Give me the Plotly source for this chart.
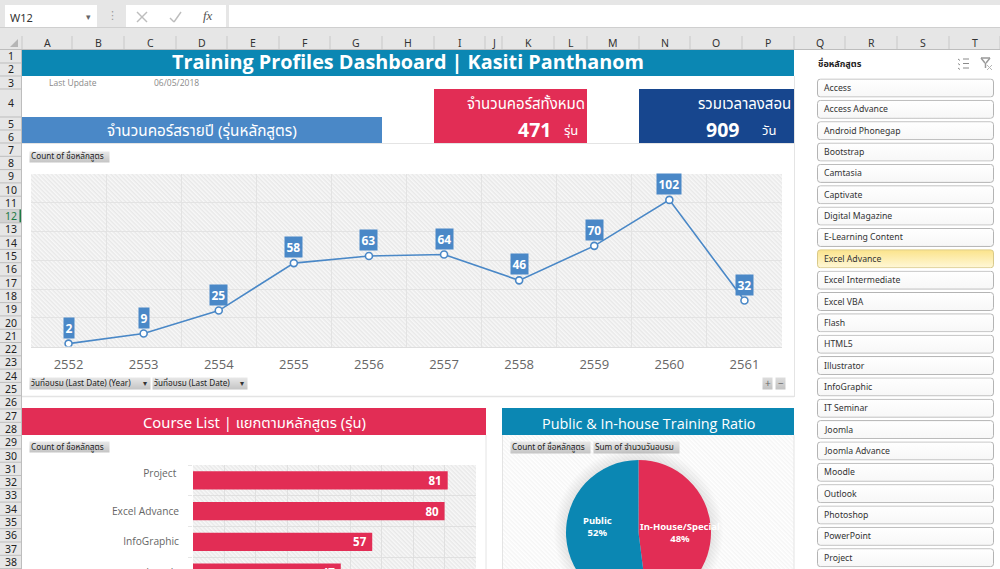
import base64
import plotly.graph_objects as go

# figure is taller than the window on purpose, the sheet runs past the bottom edge
W = 1000
H = 620

# data
years = ["2552", "2553", "2554", "2555", "2556", "2557", "2558", "2559", "2560", "2561"]
year_counts = [2, 9, 25, 58, 63, 64, 46, 70, 102, 32]

course_names = ["Project", "Excel Advance", "InfoGraphic", "Joomla"]
course_counts = [81, 80, 57, 47]

ratio_labels = ["In-House/Special", "Public"]
ratio_values = [48, 52]

slicer_items = ["Access", "Access Advance", "Android Phonegap", "Bootstrap", "Camtasia", "Captivate",
                "Digital Magazine", "E-Learning Content", "Excel Advance", "Excel Intermediate", "Excel VBA",
                "Flash", "HTML5", "Illustrator", "InfoGraphic", "IT Seminar", "Joomla", "Joomla Advance",
                "Moodle", "Outlook", "Photoshop", "PowerPoint", "Project"]

col_names = list("ABCDEFGHIJKLMNOPQRST")
col_edges = [22, 72, 124, 176, 227, 279, 330, 382, 434, 485, 502, 554, 587, 639, 690, 742, 794, 845, 897, 949, 1000]
row_edges = [50, 63, 76, 89, 117, 130, 143] + [143 + 13.3 * i for i in range(1, 33)]

# colours
TEAL = "#0b87b3"
RED = "#e22d55"
NAVY = "#17468e"
BLUE = "#4a88c7"
GREY_BAR = "#e6e6e6"

FONT = "Open Sans"
UI_FONT = "Noto Sans"
THAI = "Noto Sans Thai, Noto Sans, Open Sans"


def px(x):
    return x / W


def py(y):
    return 1 - y / H


shapes = []
notes = []
images = []


def rect(x0, y0, x1, y1, fill="rgba(0,0,0,0)", line=None, lw=1):
    shapes.append(dict(type="rect", xref="paper", yref="paper", x0=px(x0), x1=px(x1), y0=py(y0), y1=py(y1),
                       fillcolor=fill, line=dict(color=line or "rgba(0,0,0,0)", width=lw if line else 0),
                       layer="below"))


def seg(x0, y0, x1, y1, color="#c6c6c6", lw=1):
    shapes.append(dict(type="line", xref="paper", yref="paper", x0=px(x0), x1=px(x1), y0=py(y0), y1=py(y1),
                       line=dict(color=color, width=lw), layer="below"))


def text(x, y, s, size=11, color="#444444", font=FONT, bold=False, anchor="center"):
    if bold:
        s = "<b>" + s + "</b>"
    # annotations carry a little padding, take it back for edge-anchored text
    if anchor == "left":
        x -= 2
    elif anchor == "right":
        x += 2
    notes.append(dict(xref="paper", yref="paper", x=px(x), y=py(y), text=s, showarrow=False, xanchor=anchor,
                      yanchor="middle", font=dict(size=size, color=color, family=font)))


def svg_image(x0, y0, x1, y1, body):
    w, h = x1 - x0, y1 - y0
    svg = f'<svg xmlns="http://www.w3.org/2000/svg" width="{w}" height="{h}" viewBox="0 0 {w} {h}">{body}</svg>'
    src = "data:image/svg+xml;base64," + base64.b64encode(svg.encode()).decode()
    images.append(dict(source=src, xref="paper", yref="paper", x=px(x0), y=py(y0), sizex=w / W, sizey=h / H,
                       sizing="stretch", xanchor="left", yanchor="top", layer="below"))


def hatch(x0, y0, x1, y1, back, stroke):
    body = ('<defs><pattern id="p" width="3" height="3" patternUnits="userSpaceOnUse" '
            'patternTransform="rotate(45)"><rect width="3" height="3" fill="' + back + '"/>'
            '<rect width="3" height="1.5" fill="' + stroke + '"/></pattern></defs>'
            f'<rect width="{x1 - x0}" height="{y1 - y0}" fill="url(#p)"/>')
    svg_image(x0, y0, x1, y1, body)


def gradient(x0, y0, x1, y1, top, bottom, rx=0, border=None):
    body = (f'<defs><linearGradient id="g" x1="0" y1="0" x2="0" y2="1"><stop offset="0" stop-color="{top}"/>'
            f'<stop offset="1" stop-color="{bottom}"/></linearGradient></defs>'
            f'<rect x="0.5" y="0.5" width="{x1 - x0 - 1}" height="{y1 - y0 - 1}" rx="{rx}" fill="url(#g)" '
            f'stroke="{border or "none"}"/>')
    svg_image(x0, y0, x1, y1, body)


def field_button(x0, y0, x1, y1, label, arrow=False):
    gradient(x0, y0, x1, y1, "#e8e8e8", "#c4c4c4")
    text(x0 + 2, (y0 + y1) / 2, label, size=8.2, color="#222222", font=THAI, anchor="left")
    if arrow:
        text(x1 - 6, (y0 + y1) / 2, "▾", size=8, color="#333333", font="DejaVu Sans")


# ---- excel chrome ----
rect(0, 0, W, 50, GREY_BAR)
rect(0, 50, 22, H, GREY_BAR)
seg(0, 27.5, W, 27.5, "#cfcfcf")
rect(5, 5, 97, 27, "#ffffff")
rect(126, 5, 226, 27, "#ffffff")
rect(229, 5, W, 27, "#ffffff")
text(10, 17, "W12", size=11, color="#333333", font=UI_FONT, anchor="left")
text(88, 17, "▾", size=9, color="#666666", font="DejaVu Sans")
text(112, 16, "⋮", size=11, color="#999999", font="DejaVu Sans")
seg(137, 12, 147, 22, "#bdbdbd", 1.4)
seg(147, 12, 137, 22, "#bdbdbd", 1.4)
seg(170, 18, 174, 22, "#bdbdbd", 1.4)
seg(174, 22, 181, 12, "#bdbdbd", 1.4)
text(208, 16, "<i>fx</i>", size=13, color="#555555", font="Liberation Serif")
shapes.append(dict(type="path", xref="paper", yref="paper", layer="below", line=dict(width=0), fillcolor="#b5b5b5",
                   path=f"M {px(18)} {py(39)} L {px(18)} {py(47)} L {px(10)} {py(47)} Z"))

for i, name in enumerate(col_names):
    text((col_edges[i] + col_edges[i + 1]) / 2, 42.5, name, size=10.5, color="#333333", font=UI_FONT)
for edge in col_edges:
    seg(edge, 36, edge, 49, "#c8c8c8")
seg(0, 49.5, W, 49.5, "#bdbdbd")

for i in range(len(row_edges) - 1):
    mid = (row_edges[i] + row_edges[i + 1]) / 2
    if i + 1 == 12:
        rect(0, row_edges[i], 22, row_edges[i + 1], "#d2d2d2")
        seg(20.5, row_edges[i], 20.5, row_edges[i + 1], "#1d7a45", 2)
    text(11, mid, str(i + 1), size=10.5, color="#1d7a45" if i + 1 == 12 else "#222222", font=UI_FONT)
    seg(0, row_edges[i + 1], 22, row_edges[i + 1], "#bdbdbd")
seg(21.5, 50, 21.5, H, "#bdbdbd")

# ---- banners ----
rect(22, 50, 794, 76, TEAL)
text(408, 62, "Training Profiles Dashboard | Kasiti Panthanom", size=19.8, color="#ffffff", bold=True)
text(73, 82.5, "Last Update", size=8.5, color="#8a8a8a")
text(176, 82.5, "06/05/2018", size=8.5, color="#8a8a8a")

rect(22, 117, 382, 143, BLUE)
text(202, 131, "จำนวนคอร์สรายปี (รุ่นหลักสูตร)", size=15.3, color="#ffffff", font=THAI)

rect(434, 89, 587, 143, RED)
text(585, 105, "จำนวนคอร์สทั้งหมด", size=15, color="#ffffff", font=THAI, anchor="right")
text(551, 129.5, "471", size=19.5, color="#ffffff", bold=True, anchor="right")
text(578, 131, "รุ่น", size=13, color="#ffffff", font=THAI, anchor="right")

rect(639, 89, 794, 143, NAVY)
text(791, 105, "รวมเวลาลงสอน", size=15, color="#ffffff", font=THAI, anchor="right")
text(739, 129.5, "909", size=19.5, color="#ffffff", bold=True, anchor="right")
text(776, 131, "วัน", size=13, color="#ffffff", font=THAI, anchor="right")

# ---- line chart card ----
seg(22, 143.5, 794, 143.5, "#e4e4e4")
seg(794.5, 76, 794.5, 397, "#e4e4e4")
seg(22, 396.5, 794, 396.5, "#e4e4e4", 1.5)
field_button(29, 151, 110, 163, "Count of ชื่อหลักสูตร")
hatch(31, 174, 782, 347, "#f8f8f8", "#e8e8e8")
field_button(29, 377, 151, 390, "วันที่อบรม (Last Date) (Year)", arrow=True)
field_button(152, 377, 248, 390, "วันที่อบรม (Last Date)", arrow=True)
gradient(762, 377, 773, 390, "#dddddd", "#c2c2c2")
gradient(775, 377, 786, 390, "#dddddd", "#c2c2c2")
text(767.5, 383, "+", size=10, color="#666666")
text(780.5, 383, "−", size=10, color="#666666")

# ---- course list card ----
rect(22, 408, 486, 435, RED)
text(254, 423, "Course List | แยกตามหลักสูตร (รุ่น)", size=14.8, color="#ffffff", font=THAI)
seg(486, 435, 486, H, "#e4e4e4")
field_button(29, 441, 110, 453, "Count of ชื่อหลักสูตร")
hatch(193, 465, 476, 588, "#f8f8f8", "#e8e8e8")

# ---- ratio card ----
hatch(503, 435, 794, H, "#ffffff", "#f5f5f5")
rect(502, 408, 794, 435, TEAL)
text(648, 423, "Public &amp; In-house Training Ratio", size=14.4, color="#ffffff", font=FONT)
seg(502.5, 435, 502.5, H, "#e4e4e4")
seg(794, 435, 794, H, "#e4e4e4")
field_button(510, 441, 591, 454, "Count of ชื่อหลักสูตร")
field_button(593, 441, 680, 454, "Sum of จำนวนวันอบรม")

# pie shadow
svg_image(553, 447, 724, 618,
          '<defs><radialGradient id="s"><stop offset="0.82" stop-color="#000000" stop-opacity="0.11"/>'
          '<stop offset="1" stop-color="#000000" stop-opacity="0"/></radialGradient></defs>'
          '<circle cx="85.5" cy="85.5" r="85" fill="url(#s)"/>')

# ---- slicer ----
text(818, 64, "ชื่อหลักสูตร", size=9, color="#222222", font=THAI, bold=True, anchor="left")
for k in range(3):
    seg(963, 59 + k * 4.5, 969, 59 + k * 4.5, "#8a8a8a")
    seg(958, 59 + k * 4.5, 960, 60.5 + k * 4.5, "#8a8a8a")
seg(981, 58, 990, 58, "#9a9a9a", 1.5)
seg(981, 58, 985, 63, "#9a9a9a", 1.5)
seg(990, 58, 986, 63, "#9a9a9a", 1.5)
seg(985.5, 63, 985.5, 68, "#9a9a9a", 1.5)
seg(987, 65, 992, 70, "#b5b5b5")
seg(992, 65, 987, 70, "#b5b5b5")
for i, item in enumerate(slicer_items):
    mid = 88 + i * 21.35
    if item == "Excel Advance":
        gradient(817, mid - 9.5, 994, mid + 9.5, "#fbe38a", "#fff8d8", rx=3, border="#d8c98a")
    else:
        gradient(817, mid - 9.5, 994, mid + 9.5, "#ffffff", "#f7f7f7", rx=3, border="#b4b4b4")
    text(824, mid, item, size=8.7, color="#333333", font=UI_FONT, anchor="left")

# ---- chart marks ----
fig = go.Figure()

fig.add_trace(go.Scatter(x=years, y=year_counts, mode="lines+markers", xaxis="x", yaxis="y",
                         line=dict(color=BLUE, width=1.6),
                         marker=dict(size=7, color="#ffffff", line=dict(color=BLUE, width=1.6)),
                         hoverinfo="skip", showlegend=False))

# category axis takes the position index here, a year string reads as a number
for i, val in enumerate(year_counts):
    notes.append(dict(xref="x", yref="y", x=i, y=val, text="<b>%d</b>" % val, showarrow=False, yanchor="bottom",
                      yshift=5, bgcolor=BLUE, borderpad=1.5,
                      font=dict(size=12, color="#ffffff", family=FONT)))

# Project wraps in the original, so its label sits half a line higher
bar_labels = [c + "\u00a0<br> " if c == "Project" else c for c in course_names]
fig.add_trace(go.Bar(y=bar_labels, x=course_counts, orientation="h", xaxis="x2", yaxis="y2", width=0.6,
                     marker=dict(color=RED, line=dict(width=0)),
                     text=["<b>%d</b>\u00a0" % c for c in course_counts],
                     textposition="inside", insidetextanchor="end", textangle=0, constraintext="none",
                     textfont=dict(size=11.5, color="#ffffff", family=FONT),
                     hoverinfo="skip", showlegend=False))

fig.add_trace(go.Pie(labels=ratio_labels, values=ratio_values, sort=False, direction="clockwise", rotation=0,
                     textinfo="none", hoverinfo="skip", showlegend=False,
                     marker=dict(colors=[RED, TEAL], line=dict(width=0)),
                     domain=dict(x=[px(566), px(711)], y=[py(605), py(460)])))

total = sum(ratio_values)
pie_label_pos = [(680, 532), (597, 526)]
for lab, val, pos in zip(ratio_labels, ratio_values, pie_label_pos):
    text(pos[0], pos[1], "%s<br>%d%%" % (lab, round(val * 100 / total)), size=9.5, color="#ffffff", font=UI_FONT,
         bold=True)

fig.update_layout(
    width=W, height=H, autosize=False,
    margin=dict(l=0, r=0, t=0, b=0, pad=0),
    paper_bgcolor="#ffffff", plot_bgcolor="rgba(0,0,0,0)",
    shapes=shapes, annotations=notes, images=images, showlegend=False,
    xaxis=dict(domain=[px(31), px(782)], type="category", categoryorder="array", categoryarray=years,
               range=[-0.5, 9.5], tickson="boundaries", showgrid=True, gridcolor="#e3e3e3", gridwidth=1,
               ticklabelstandoff=6, tickfont=dict(size=13, color="#666666", family=FONT), tickangle=0,
               showline=True, linecolor="#dedede", zeroline=False, fixedrange=True),
    yaxis=dict(domain=[py(346.5), py(174)], range=[0, 120], dtick=20, showgrid=True, gridcolor="#e3e3e3",
               showticklabels=False, zeroline=False, fixedrange=True),
    xaxis2=dict(domain=[px(193), px(476)], range=[0, 90], dtick=10, anchor="y2", showgrid=True, gridcolor="#e0e0e0",
                showticklabels=False, zeroline=False, fixedrange=True),
    yaxis2=dict(domain=[py(588), py(465)], type="category", categoryorder="array",
                categoryarray=bar_labels[::-1], anchor="x2", tickson="boundaries", showgrid=True,
                gridcolor="#e0e0e0", ticks="outside", ticklen=4, tickcolor="#e6e6e6", ticklabelstandoff=13,
                tickfont=dict(size=10.2, color="#666666", family=FONT), zeroline=False, fixedrange=True),
)

fig.write_html("out.html", config=dict(displayModeBar=False, staticPlot=True),
               post_script="document.body.style.margin='0';document.documentElement.style.overflow='hidden';")
